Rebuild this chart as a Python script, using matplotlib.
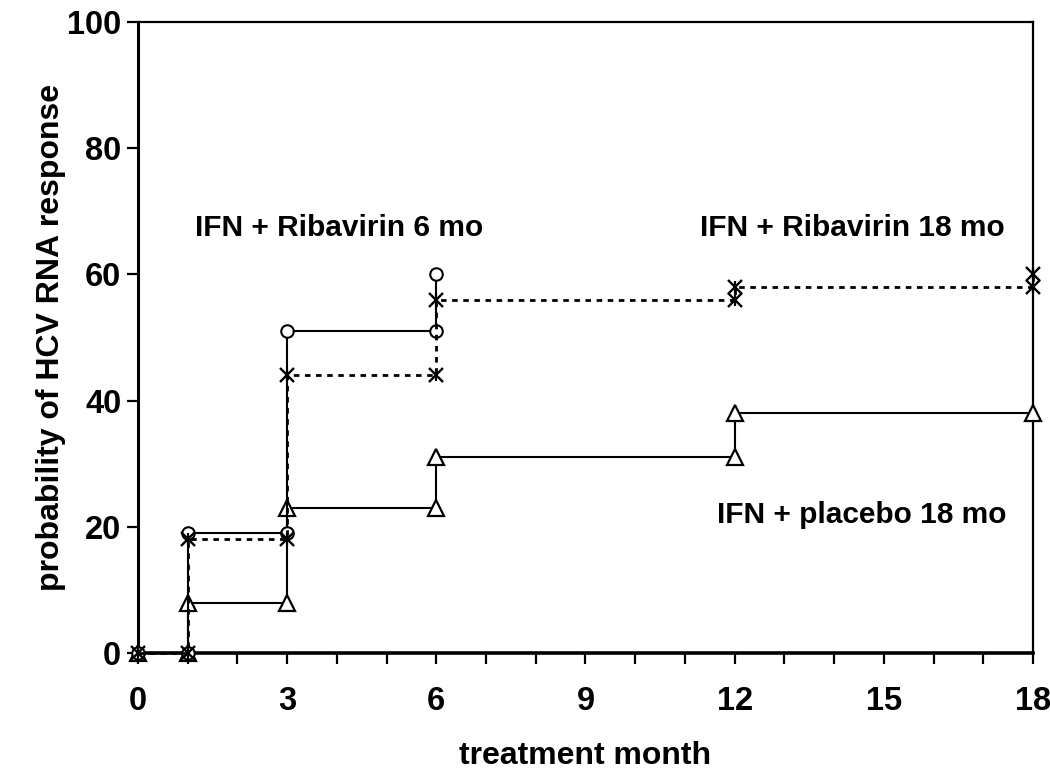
import numpy as np
import matplotlib
matplotlib.use("Agg")
import matplotlib.pyplot as plt
from matplotlib.ticker import MultipleLocator

plt.rcParams["font.family"] = ["Liberation Sans", "DejaVu Sans"]
plt.rcParams["font.weight"] = "bold"

# step curves (month, % responders), each step listed as two points
rib6_x = [0, 1, 1, 3, 3, 6, 6]
rib6_y = [0, 0, 19, 19, 51, 51, 60]

rib18_x = [0, 1, 1, 3, 3, 6, 6, 12, 12, 18, 18]
rib18_y = [0, 0, 18, 18, 44, 44, 56, 56, 58, 58, 60]

plac_x = [0, 1, 1, 3, 3, 6, 6, 12, 12, 18]
plac_y = [0, 0, 8, 8, 23, 23, 31, 31, 38, 38]

x_ticks = [0, 3, 6, 9, 12, 15, 18]
y_ticks = [0, 20, 40, 60, 80, 100]

labels = ["IFN + Ribavirin 6 mo", "IFN + Ribavirin 18 mo", "IFN + placebo 18 mo"]
label_pos = [(1.15, 67.3), (11.3, 67.3), (11.65, 21.9)]

fig = plt.figure(figsize=(10.5, 7.73), dpi=100)
ax = fig.add_axes([0.1314, 0.1552, 0.8524, 0.8163])

ax.plot(plac_x, plac_y, color="black", lw=1.5, marker="^", ms=11,
        mfc="white", mec="black", mew=1.6, clip_on=False, zorder=3)
ax.plot(rib6_x, rib6_y, color="black", lw=1.5, marker="o", ms=9,
        mfc="white", mec="black", mew=1.5, clip_on=False, zorder=4)
ax.plot(rib18_x, rib18_y, color="black", lw=2, ls=(0, (2, 2)),
        clip_on=False, zorder=5)
ax.plot(rib18_x, rib18_y, ls="none", marker="x", ms=10, mec="black",
        mew=1.7, clip_on=False, zorder=6)
ax.plot(rib18_x, rib18_y, ls="none", marker="|", ms=9, mec="black",
        mew=1.6, clip_on=False, zorder=6)

for txt, (tx, ty) in zip(labels, label_pos):
    ax.text(tx, ty, txt, fontsize=21.5, fontweight="bold", ha="left", va="center")

ax.set_xlim(0, 18)
ax.set_ylim(0, 100)
ax.set_xticks(x_ticks)
ax.xaxis.set_minor_locator(MultipleLocator(1))
ax.set_yticks(y_ticks)
ax.tick_params(axis="x", which="both", direction="out", length=8, width=1.6,
               labelsize=23.5, pad=16)
ax.tick_params(axis="y", which="both", direction="out", length=8, width=1.6,
               labelsize=23.5, pad=4)
for lab in ax.get_xticklabels() + ax.get_yticklabels():
    lab.set_fontweight("bold")

ax.spines["left"].set_linewidth(2.2)
ax.spines["bottom"].set_linewidth(2.6)
ax.spines["top"].set_linewidth(1.6)
ax.spines["right"].set_linewidth(1.6)

ax.set_xlabel("treatment month", fontsize=23, fontweight="bold", labelpad=17)
ax.set_ylabel("probability of HCV RNA response", fontsize=23,
              fontweight="bold", labelpad=1)

fig.savefig("out.png", dpi=100)
